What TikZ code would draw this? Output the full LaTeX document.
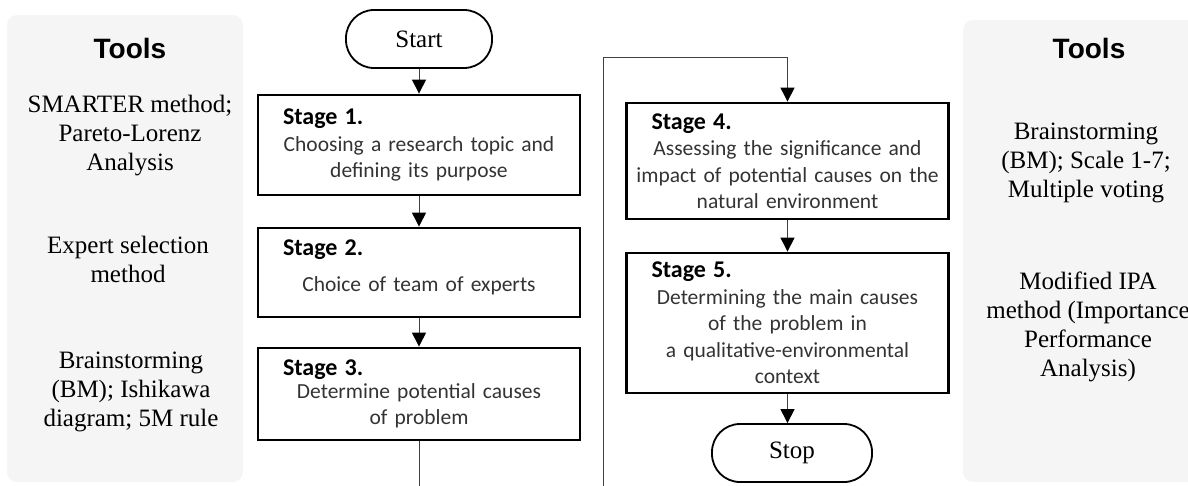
\documentclass[tikz,border=0pt]{standalone}
\usepackage{fontspec}
\setmainfont{Liberation Serif}
\newfontfamily\calibrifont{Carlito}
\newfontfamily\arialfont{Liberation Sans}
\usetikzlibrary{calc}
\usetikzlibrary{positioning,arrows,arrows.meta,shapes}

\newcommand{\stagelbl}[1]{\makebox[\linewidth][l]{\hspace*{22pt}\color{black}\fontsize{24}{26.5}\selectfont\bfseries Stage #1.}}

\begin{document}
\begin{tikzpicture}[x=1pt, y=-1pt,
  panel/.style={fill=black!4, rounded corners=10pt},
  head/.style={font=\arialfont\bfseries\fontsize{28}{32}\selectfont},
  tool/.style={align=center, font=\fontsize{25}{29}\selectfont},
  stagebox/.style={draw, line width=2.8pt, minimum width=322pt, text width=316pt, inner xsep=0pt, inner ysep=2pt, align=center, text=black!80, font=\calibrifont\fontsize{21.5}{26.5}\selectfont},
  terminal/.style={draw, line width=1.8pt, rounded corners=28pt, minimum height=58pt, font=\fontsize{25}{29}\selectfont},
  flow/.style={draw=black!75, line width=1pt, -{Triangle[length=14pt,width=14pt,color=black]}},
  link/.style={draw=black!75, line width=1pt}]
\useasboundingbox (0,0) rectangle (1188,485);

% tool panels
\fill[panel] (7,15) rectangle (243,482);
\fill[panel] (963,20) rectangle (1210,482);

\node[head] (toolsleft) at (130,48) {Tools};
\node[head] (toolsright) at (1089,48) {Tools};

\node[tool] (smarter) at (130,136) {SMARTER method;\\ Pareto-Lorenz\\ Analysis};
\node[tool] (expert) at (128,259) {Expert selection\\ method};
\node[tool] (ishikawa) at (131,392) {Brainstorming\\ (BM); Ishikawa\\ diagram; 5M rule};
\node[tool] (voting) at (1086,163) {Brainstorming\\ (BM); Scale 1-7;\\ Multiple voting};
\node[tool] (ipa) at (1088,327) {Modified IPA\\ method (Importance\\ Performance\\ Analysis)};

% flow chart
\node[terminal, minimum width=146pt] (start) at (419,39) {Start};
\node[stagebox, minimum height=100pt] (stage1) at (419,145) {\stagelbl{1}\\ Choosing a research topic and\\ defining its purpose};
\node[stagebox, minimum height=89pt] (stage2) at (419,272.5) {\stagelbl{2}\\[10pt] Choice of team of experts\rule[-14pt]{0pt}{0pt}};
\node[stagebox, minimum height=92pt] (stage3) at (419,394) {\stagelbl{3}\\[-4pt] Determine potential causes\\ of problem};
\node[stagebox, minimum height=116pt] (stage4) at (787.5,161) {\stagelbl{4}\\ Assessing the significance and\\ impact of potential causes on the\\ natural environment};
\node[stagebox, minimum height=140pt] (stage5) at (787.5,323) {\stagelbl{5}\\ Determining the main causes\\ of the problem in\\ a qualitative-environmental\\ context};
\node[terminal, minimum width=160pt] (stop) at (792,453) {Stop};

\coordinate (cutleft) at (419,492);
\coordinate (cutright) at (603,492);
\coordinate (bend4) at (787.5,57);

\draw[flow] (start) -- (stage1);
\draw[flow] (stage1) -- (stage2);
\draw[flow] (stage2) -- (stage3);
\draw[link] (stage3) -- (cutleft);
\draw[flow] (cutright) |- (bend4) -- (stage4);
\draw[flow] (stage4) -- (stage5);
\draw[flow] (stage5.south) -- (stage5.south |- stop.north);
\end{tikzpicture}
\end{document}
